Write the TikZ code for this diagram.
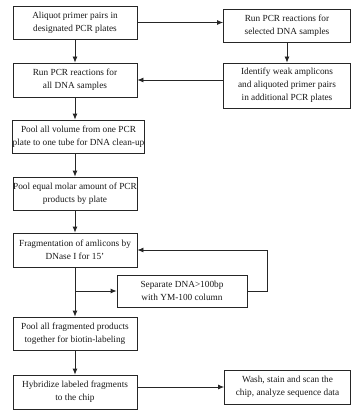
\documentclass[tikz,border=0pt]{standalone}
\usepackage{fontspec}
\setmainfont{Liberation Serif}
\usetikzlibrary{arrows.meta}
\begin{document}
\begin{tikzpicture}[x=1pt,y=-1pt,
  box/.style={draw=black!85,line width=0.8pt,align=center,inner sep=0pt,
    font=\fontsize{9.3}{13}\selectfont,text=black!90},
  arr/.style={draw=black!85,line width=0.8pt,-{Latex[length=6pt,width=5pt]}},
  ln/.style={draw=black!85,line width=0.8pt}]
\useasboundingbox (0,0) rectangle (352,412);
\node[box,minimum width=124pt,minimum height=33pt] (b1) at (75,22.5) {Aliquot primer pairs in\\designated PCR plates};
\node[box,minimum width=127pt,minimum height=33pt] (r1) at (287,25.5) {Run PCR reactions for\\selected DNA samples};
\node[box,minimum width=124pt,minimum height=34pt] (b2) at (75,80) {Run PCR reactions for\\all DNA samples};
\node[box,minimum width=127pt,minimum height=45pt] (r2) at (287,85.5) {Identify weak amplicons\\and aliquoted primer pairs\\in additional PCR plates};
\node[box,minimum width=131pt,minimum height=33pt] (b3) at (78.5,136.5) {Pool all volume from one PCR\\plate to one tube for DNA clean-up};
\node[box,minimum width=124pt,minimum height=33pt] (b4) at (75,193.5) {Pool equal molar amount of PCR\\products by plate};
\node[box,minimum width=124pt,minimum height=34pt] (b5) at (75,250) {Fragmentation of amlicons by\\DNase I for 15’};
\node[box,minimum width=130pt,minimum height=32pt] (sep) at (182,291) {Separate DNA>100bp\\with YM-100 column};
\node[box,minimum width=124pt,minimum height=33pt] (b6) at (75,333.5) {Pool all fragmented products\\together for biotin-labeling};
\node[box,minimum width=124pt,minimum height=34pt] (b7) at (75,392) {Hybridize labeled fragments\\to the chip};
\node[box,minimum width=126pt,minimum height=34pt] (wash) at (287.5,387) {Wash, stain and scan the\\chip, analyze sequence data};
\coordinate (br) at (b5.south |- sep.west);
\draw[arr] (b1.east) -- (b1.east -| r1.west);
\draw[arr] (r1.south) -- (r2.north);
\draw[arr] (b2.east -| r2.west) -- (b2.east);
\draw[arr] (b1.south) -- (b2.north);
\draw[arr] (b2.south) -- (b3.north -| b2.south);
\draw[arr] (b3.south -| b2.south) -- (b4.north);
\draw[arr] (b4.south) -- (b5.north);
\draw[arr] (b5.south) -- (b6.north);
\draw[arr] (br) -- (sep.west);
\draw[arr] (sep.east) -- ++(20,0) |- (b5.east);
\draw[arr] (b6.south) -- (b7.north);
\draw[arr] (b7.east |- wash.west) -- (wash.west);
\end{tikzpicture}
\end{document}
